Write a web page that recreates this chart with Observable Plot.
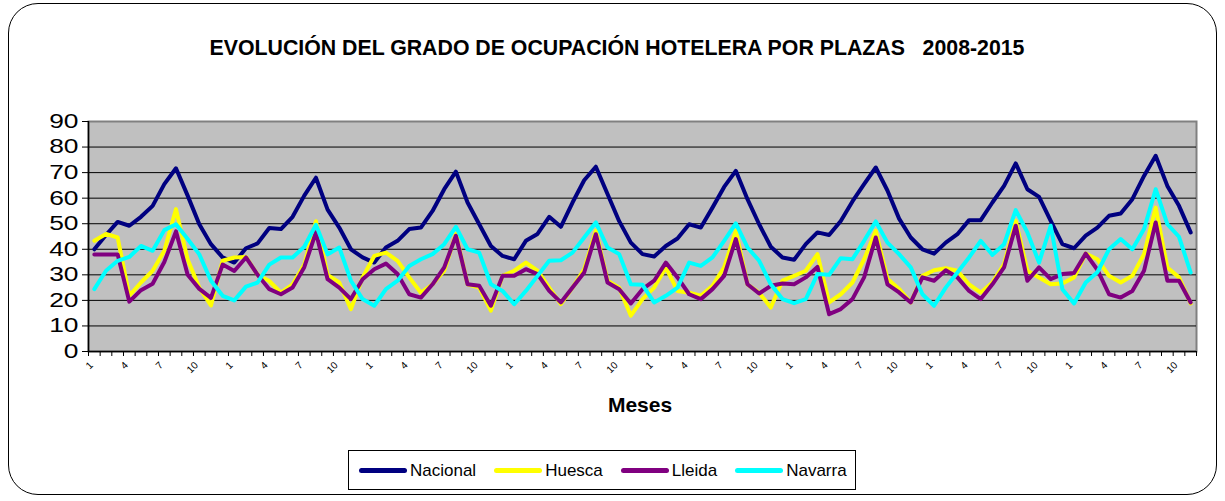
<!DOCTYPE html>
<html>
<head>
<meta charset="utf-8">
<script src="https://cdn.jsdelivr.net/npm/d3@7"></script>
<script src="https://cdn.jsdelivr.net/npm/@observablehq/plot@0.6"></script>
<style>
  body { margin: 0; background: #fff; font-family: "Liberation Sans", Arial, sans-serif; }
  #wrap { position: relative; width: 1225px; height: 501px; overflow: hidden; }
  #border { position: absolute; left: 8px; top: 3px; width: 1209px; height: 492px; border: 1.5px solid #000; border-radius: 30px; box-sizing: border-box; }
  #chart { position: absolute; left: 0; top: 0; }
  #title { position: absolute; top: 38px; left: 617px; transform: translateX(-50%); white-space: pre; font-weight: bold; font-size: 21.3px; line-height: 21px; color: #000; }
  #xtitle { position: absolute; top: 394px; left: 640px; transform: translateX(-50%); font-weight: bold; font-size: 21px; line-height: 21px; color: #000; }
  #legend { position: absolute; left: 348px; top: 450px; width: 508px; height: 40px; box-sizing: border-box; border: 1px solid #000; display: flex; align-items: center; padding-left: 10px; }
  .item { display: flex; align-items: center; margin-right: 18px; }
  .swatch { width: 48px; height: 5px; border-radius: 3px; margin-right: 3px; }
  .lab { font-size: 17px; line-height: 17px; color: #000; }
</style>
</head>
<body>
<div id="wrap">
  <div id="border"></div>
  <div id="chart"></div>
  <div id="title"></div>
  <div id="xtitle"></div>
  <div id="legend"></div>
</div>
<script>
// ---- Data ----
const titleText = "EVOLUCIÓN DEL GRADO DE OCUPACIÓN HOTELERA POR PLAZAS   2008-2015";
const xTitle = "Meses";
const series = ["Nacional", "Huesca", "Lleida", "Navarra"];
const colors = ["#000080", "#FFFF00", "#800080", "#00FFFF"];
const yTicks = [0, 10, 20, 30, 40, 50, 60, 70, 80, 90];
const tickMonths = [1, 4, 7, 10];

const nacional = [40, 45.6, 50.7, 49.2, 52.7, 57, 65.5, 71.7, 61, 49.8, 42, 36.8,
  34.8, 40.4, 42.3, 48.3, 47.9, 52.7, 61, 68, 55.5, 48.5, 40, 36.8,
  34.8, 40.7, 43.3, 47.9, 48.5, 55, 63.5, 70.4, 58.3, 49.8, 41.3, 37.4,
  36.1, 43.3, 46, 52.7, 48.8, 58.3, 67, 72.3, 61.6, 51, 42.6, 38.1,
  37.2, 41.3, 44.2, 49.8, 48.5, 56.3, 64.4, 70.7, 59.6, 49.8, 41, 36.8,
  35.9, 42, 46.6, 45.6, 51.1, 58.7, 65.5, 72, 63, 52, 44.6, 40,
  38.3, 42.6, 45.9, 51.4, 51.4, 58.3, 64.8, 73.6, 63.5, 60.5, 51.1, 42,
  40.4, 45.3, 48.5, 53.1, 54, 59.6, 68.7, 76.6, 64.8, 57, 46.6];

const huesca = [43.3, 46, 44.6, 21.8, 27, 31.6, 39.4, 55.7, 36, 25, 18, 35.5,
  36.8, 37, 30, 27.6, 23, 26.3, 34, 51, 30, 27, 16.6, 29,
  37.4, 38.7, 35.5, 29, 23, 26.3, 31.6, 46, 26.3, 25, 16, 29.6,
  31.6, 34.8, 31.6, 25, 18.5, 25, 32.2, 47.2, 27.7, 25, 14, 20.5,
  25, 32.9, 23.7, 23, 21.8, 25.7, 32.9, 47.2, 26.3, 23, 17.2, 27.7,
  29.6, 31.6, 38.1, 19.2, 22.4, 27, 36.1, 47.2, 28.5, 24.5, 19.2, 29.6,
  31.8, 32.6, 31.6, 26.3, 23, 27, 34.2, 51.1, 31.6, 29, 26.3, 26.6,
  29, 38.3, 36.1, 29.6, 27, 29.6, 38.1, 56.3, 32.9, 29, 18.8];

const lleida = [38, 38, 38, 19.5, 24, 26.5, 35, 47, 30, 24.5, 21, 34,
  31.5, 36.8, 30, 24.4, 22.4, 25, 33, 46.6, 28.3, 25, 20.5, 28.3,
  32.2, 34.4, 30.3, 22.4, 21.1, 26.3, 32.9, 45.3, 26.3, 25.7, 17.9, 29.6,
  29.6, 32.2, 30.3, 23.7, 19.2, 25, 30.9, 45.9, 27, 24.4, 18.8, 24.4,
  27.7, 34.8, 29, 22.4, 20.5, 24.4, 29.6, 44, 26.3, 22.7, 25.7, 26.6,
  26.3, 29, 33.1, 14.6, 16.6, 20.5, 29, 44.6, 26.3, 23.1, 19.2, 29,
  27.7, 31.8, 29, 23.7, 20.5, 26.3, 32.9, 49.2, 27.7, 32.9, 28.3, 30.3,
  30.7, 38.3, 32, 22.4, 21.1, 23.7, 31.6, 50.5, 27.7, 27.7, 19.2];

const navarra = [24.4, 31.6, 35.5, 37, 41.3, 39.4, 47.5, 49.8, 44, 38, 27.7, 21.8,
  20, 25.4, 27, 34, 36.8, 36.8, 41, 49.6, 38, 40.7, 27.7, 20.5,
  17.9, 24.4, 27.7, 33.5, 36.1, 38.1, 42, 48.8, 40, 38.7, 26.3, 23.7,
  18.5, 23.7, 29.6, 35.5, 35.7, 38.7, 44.6, 50.5, 40.7, 38.1, 26.3, 26.1,
  19.2, 21.8, 25, 34.8, 33.5, 36.8, 43.3, 50.1, 40.7, 35.5, 26.3, 20.5,
  18.9, 20.5, 30.3, 30, 36.5, 36.1, 43.3, 50.9, 42.6, 38.1, 32.9, 22.4,
  17.9, 25, 30.9, 36.8, 43.3, 37.8, 42, 55.3, 46.6, 34.8, 49.2, 24.4,
  18.8, 27, 31, 40, 44, 40, 47.9, 63.5, 49.8, 44.9, 30.9];

// ---- Build table ----
const valuesBySeries = [nacional, huesca, lleida, navarra];
const n = nacional.length;
const rows = [];
series.forEach((s, k) => valuesBySeries[k].forEach((v, i) => rows.push({ i, v, s })));
const boundaries = d3.range(0, n + 1).map(i => i - 0.5);
const labelIdx = d3.range(n).filter(i => tickMonths.includes((i % 12) + 1));
const gridValues = yTicks.filter(t => t > 0 && t < 90);

const chart = Plot.plot({
  width: 1225,
  height: 501,
  marginLeft: 88,
  marginRight: 29,
  marginTop: 121,
  marginBottom: 150,
  x: { domain: [-0.5, n - 0.5], label: null },
  y: { domain: [0, 90], label: null },
  color: { domain: series, range: colors },
  style: { fontFamily: "Liberation Sans, Arial, sans-serif", background: "transparent", color: "#000" },
  marks: [
    Plot.frame({ fill: "#c0c0c0", stroke: "#808080", strokeWidth: 2 }),
    Plot.ruleY(gridValues, { stroke: "#000", strokeWidth: 1 }),
    Plot.ruleX([-0.5], { stroke: "#000", strokeWidth: 1.5 }),
    Plot.ruleY([0], { stroke: "#000", strokeWidth: 1.5 }),
    Plot.axisY(yTicks, { tickSize: 6, tickPadding: 4, fontSize: 20, label: null, stroke: "#000", fill: "#000" }),
    Plot.axisX(boundaries, { tickSize: 5, tickFormat: () => "", label: null, stroke: "#000" }),
    Plot.axisX(labelIdx, { tickSize: 0, tickPadding: 12, dx: -3, tickRotate: -45, fontSize: 10, label: null,
      fill: "#000", tickFormat: i => String((i % 12) + 1) }),
    Plot.line(rows, { x: "i", y: "v", z: "s", stroke: "s", strokeWidth: 4, strokeLinejoin: "round" })
  ]
});
document.getElementById("chart").appendChild(chart);

// Widen the y tick labels horizontally, as in the reference (anchored at their right end)
d3.select(chart).selectAll('g[aria-label="y-axis tick label"] text').each(function () {
  const t = d3.select(this);
  const tr = t.attr("transform");
  if (tr) {
    t.attr("transform", tr + " scale(1.32,1)");
  } else {
    const x = +t.attr("x") || 0, y = +t.attr("y") || 0;
    t.attr("x", null).attr("y", null).attr("transform", `translate(${x},${y}) scale(1.32,1)`);
  }
});

document.getElementById("title").textContent = titleText;
document.getElementById("xtitle").textContent = xTitle;

const legend = document.getElementById("legend");
series.forEach((s, k) => {
  const item = document.createElement("div");
  item.className = "item";
  const sw = document.createElement("div");
  sw.className = "swatch";
  sw.style.background = colors[k];
  const lab = document.createElement("span");
  lab.className = "lab";
  lab.textContent = s;
  item.appendChild(sw);
  item.appendChild(lab);
  legend.appendChild(item);
});
</script>
</body>
</html>
